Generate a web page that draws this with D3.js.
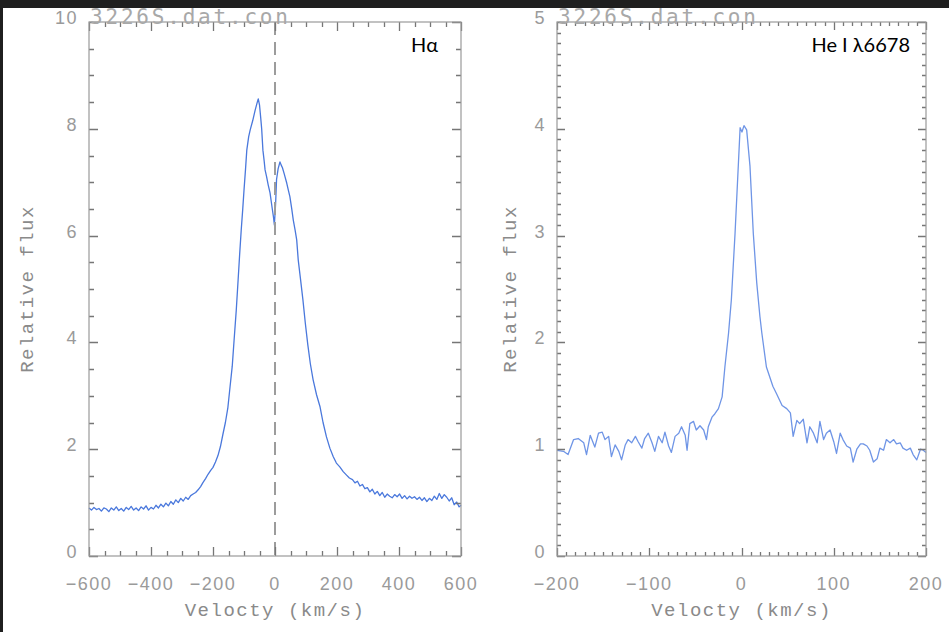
<!DOCTYPE html>
<html>
<head>
<meta charset="utf-8">
<script src="https://cdn.jsdelivr.net/npm/d3@7"></script>
<style>
  body { margin: 0; background: #fff; }
  svg { display: block; }
  .tlabel { fill: #9a9a9a; font-family: "Liberation Sans", sans-serif; font-size: 18px; letter-spacing: 1.5px; }
  .title { fill: #8a8a8a; font-family: "Liberation Mono", monospace; font-size: 19px; letter-spacing: 1.5px; }
  .file { fill: #a8a8a8; font-family: "DejaVu Sans Mono", monospace; font-size: 21px; letter-spacing: 2.8px; }
  .line-name { fill: #000; font-family: Lato, "Open Sans", sans-serif; font-size: 20px; }
  .tk { stroke: #767676; stroke-width: 1.3px; }
</style>
</head>
<body>
<svg width="949" height="632"></svg>
<script>
// H-alpha profile (velocity km/s, relative flux)
var haVel = [-600,-592,-584,-576,-568,-560,-552,-544,-536,-528,-520,-512,-504,-496,-488,-480,-472,-464,-456,-448,
  -440,-432,-424,-416,-408,-400,-392,-384,-376,-368,-360,-352,-344,-336,-328,-320,-312,-304,-296,-288,
  -280,-272,-264,-256,-248,-240,-232,-224,-216,-208,-200,-192,-184,-176,-168,-160,-152,-145,-138,-132,
  -125,-119,-114,-109,-104,-100,-95,-91,-85,-80,-72,-64,-58,-54,-50,-46,-43,-39,-35,-32,
  -27,-22,-16,-10,-5,-2,2,5,10,16,20,24,30,38,43,48,54,59,65,70,
  75,82,90,98,106,114,123,134,145,155,166,177,188,198,209,220,230,240,250,258,
  266,274,282,290,298,306,314,322,330,338,346,354,362,370,378,386,394,402,410,418,
  426,434,442,450,458,466,474,482,490,498,506,514,522,530,538,546,554,562,570,578,
  586,594,600];
var haFlux = [0.90,0.86,0.91,0.87,0.89,0.84,0.90,0.88,0.83,0.90,0.86,0.92,0.85,0.89,0.84,0.91,0.87,0.93,0.86,0.90,
  0.85,0.92,0.88,0.94,0.86,0.91,0.88,0.95,0.90,0.97,0.92,0.99,0.94,1.02,0.97,1.05,1.00,1.08,1.03,1.10,
  1.06,1.13,1.16,1.19,1.24,1.30,1.38,1.45,1.53,1.60,1.66,1.76,1.88,2.05,2.28,2.50,2.78,3.17,3.55,4.04,
  4.60,5.17,5.65,6.10,6.50,6.85,7.25,7.60,7.85,7.98,8.15,8.35,8.48,8.56,8.45,8.20,8.00,7.60,7.40,7.23,
  7.10,6.95,6.80,6.55,6.35,6.20,6.60,7.05,7.25,7.38,7.32,7.27,7.15,6.98,6.85,6.73,6.50,6.29,6.10,5.92,
  5.54,5.20,4.80,4.35,3.95,3.60,3.30,3.02,2.80,2.50,2.23,2.02,1.86,1.74,1.67,1.58,1.52,1.46,1.43,1.37,
  1.40,1.31,1.34,1.26,1.28,1.20,1.25,1.16,1.21,1.13,1.19,1.10,1.16,1.12,1.09,1.15,1.11,1.16,1.08,1.13,
  1.07,1.12,1.08,1.11,1.06,1.10,1.04,1.09,1.02,1.08,1.04,1.12,1.06,1.17,1.08,1.15,1.10,1.03,1.09,0.96,
  1.01,0.92,0.95];

// He I 6678 profile
var heVel = [-200,-193,-188,-182,-177,-171,-168,-164,-159,-155,-151,-148,-144,-141,-137,-133,-130,-126,-123,-119,
  -115,-112,-108,-105,-101,-97,-94,-90,-86,-83,-79,-76,-72,-68,-65,-61,-59,-56,-52,-49,
  -45,-41,-38,-36,-32,-29,-25,-21,-18,-14,-11,-7,-3.5,-1.5,0.5,2.7,5.6,9.2,12.8,16.5,
  20,22,27,34,38,44,49,53,56,60,63,67,71,74,78,82,85,89,92,96,
  100,103,107,110,114,118,121,125,129,132,136,139,143,147,150,154,157,161,165,168,
  172,175,179,183,186,190,194,197,200];
var heFlux = [0.99,0.98,0.95,1.09,1.10,1.06,0.95,1.13,1.02,1.15,1.16,1.09,1.12,0.93,1.04,0.98,0.90,1.04,1.09,1.06,
  1.12,1.07,1.01,1.10,1.15,1.06,0.98,1.12,1.06,1.16,1.03,0.97,1.12,1.15,1.21,1.13,0.99,1.24,1.26,1.18,
  1.22,1.18,1.09,1.21,1.30,1.33,1.38,1.49,1.77,2.09,2.40,3.02,3.65,4.01,3.97,4.03,3.99,3.65,3.02,2.56,
  2.24,2.09,1.77,1.59,1.52,1.41,1.38,1.34,1.12,1.27,1.24,1.28,1.06,1.21,1.15,1.06,1.26,1.09,1.15,1.18,
  1.07,0.96,1.15,1.09,1.03,1.01,0.88,1.00,1.05,1.05,1.03,0.99,0.88,0.91,1.01,0.99,1.09,1.06,1.09,1.05,
  1.06,1.01,0.99,1.01,0.95,0.90,1.00,0.99,0.97];

var fileName = "3226S.dat.con";
var xTitle = "Velocty (km/s)";
var yTitle = "Relative flux";

var svg = d3.select("svg");
svg.append("rect").attr("width", 949).attr("height", 632).attr("fill", "#fff");
svg.append("rect").attr("width", 949).attr("height", 8).attr("fill", "#1f1f1f");
svg.append("rect").attr("width", 3).attr("height", 632).attr("fill", "#1f1f1f");

var panels = [
  {left: 89, right: 461, top: 22, bottom: 556, xDom: [-600, 600], yDom: [0, 10],
   xMajor: 200, xMinor: 50, yMajor: 2, yMinor: 0.5, majLen: 9, minLen: 5, yTitleX: 27,
   vel: haVel, flux: haFlux, color: "#4a78dc", name: "Hα", nameX: 438, dashed: true},
  {left: 557, right: 926, top: 22, bottom: 556, xDom: [-200, 200], yDom: [0, 5],
   xMajor: 100, xMinor: 10, yMajor: 1, yMinor: 0.1, majLen: 8, minLen: 4, yTitleX: 510,
   vel: heVel, flux: heFlux, color: "#6f95e6", name: "He I λ6678", nameX: 910, dashed: false}
];

var fmt = d3.format("d");

function steps(dom, step) {
  var n = Math.round((dom[1] - dom[0]) / step);
  return d3.range(n + 1).map(function (i) { return dom[0] + i * step; });
}

panels.forEach(function (p) {
  var w = p.right - p.left, h = p.bottom - p.top;
  var x = d3.scaleLinear().domain(p.xDom).range([0, w]);
  var y = d3.scaleLinear().domain(p.yDom).range([h, 0]);
  var g = svg.append("g").attr("transform", "translate(" + p.left + "," + p.top + ")");

  // data line
  var pts = p.vel.map(function (v, i) { return [v, p.flux[i]]; });
  g.append("path")
    .datum(pts)
    .attr("fill", "none")
    .attr("stroke", p.color)
    .attr("stroke-width", 1.3)
    .attr("stroke-linejoin", "round")
    .attr("d", d3.line().x(function (d) { return x(d[0]); }).y(function (d) { return y(d[1]); }));

  if (p.dashed) {
    g.append("line")
      .attr("x1", x(0)).attr("x2", x(0)).attr("y1", 0).attr("y2", h)
      .attr("stroke", "#9c9c9c").attr("stroke-width", 2)
      .attr("stroke-dasharray", "13,7");
  }

  var xMaj = steps(p.xDom, p.xMajor), xMin = steps(p.xDom, p.xMinor);
  var yMaj = steps(p.yDom, p.yMajor), yMin = steps(p.yDom, p.yMinor);

  // inward ticks on all four sides, IDL style, as one path
  var tickPath = d3.path();
  function xTicks(vals, len) {
    vals.forEach(function (d) {
      var px = Math.round(x(d)) + 0.5;
      tickPath.moveTo(px, h); tickPath.lineTo(px, h - len);
      tickPath.moveTo(px, 0); tickPath.lineTo(px, len);
    });
  }
  function yTicks(vals, len) {
    vals.forEach(function (d) {
      var py = Math.round(y(d)) + 0.5;
      tickPath.moveTo(0, py); tickPath.lineTo(len, py);
      tickPath.moveTo(w, py); tickPath.lineTo(w - len, py);
    });
  }
  xTicks(xMin, p.minLen);
  xTicks(xMaj, p.majLen);
  yTicks(yMin, p.minLen);
  yTicks(yMaj, p.majLen);
  g.append("path").attr("class", "tk").attr("fill", "none").attr("d", tickPath.toString());

  g.append("rect")
    .attr("width", w).attr("height", h)
    .attr("fill", "none").attr("stroke", "#9a9a9a").attr("stroke-width", 1.2);

  // tick labels
  g.selectAll(null).data(xMaj).enter().append("text")
    .attr("class", "tlabel")
    .attr("x", function (d) { return x(d); })
    .attr("y", h + 34)
    .attr("text-anchor", "middle")
    .text(fmt);

  g.selectAll(null).data(yMaj).enter().append("text")
    .attr("class", "tlabel")
    .attr("x", -11)
    .attr("y", function (d) { return y(d) + 2; })
    .attr("text-anchor", "end")
    .text(fmt);

  // file name watermark
  g.append("text").attr("class", "file")
    .attr("x", 1).attr("y", 1.5)
    .text(fileName);

  svg.append("text").attr("class", "line-name")
    .attr("x", p.nameX).attr("y", 52)
    .attr("text-anchor", "end")
    .text(p.name);

  svg.append("text").attr("class", "title")
    .attr("x", p.left + w / 2).attr("y", 616)
    .attr("text-anchor", "middle")
    .text(xTitle);

  svg.append("text").attr("class", "title")
    .attr("transform", "translate(" + (p.yTitleX + 6) + "," + (p.top + h / 2) + ") rotate(-90)")
    .attr("text-anchor", "middle")
    .text(yTitle);
});
</script>
</body>
</html>
